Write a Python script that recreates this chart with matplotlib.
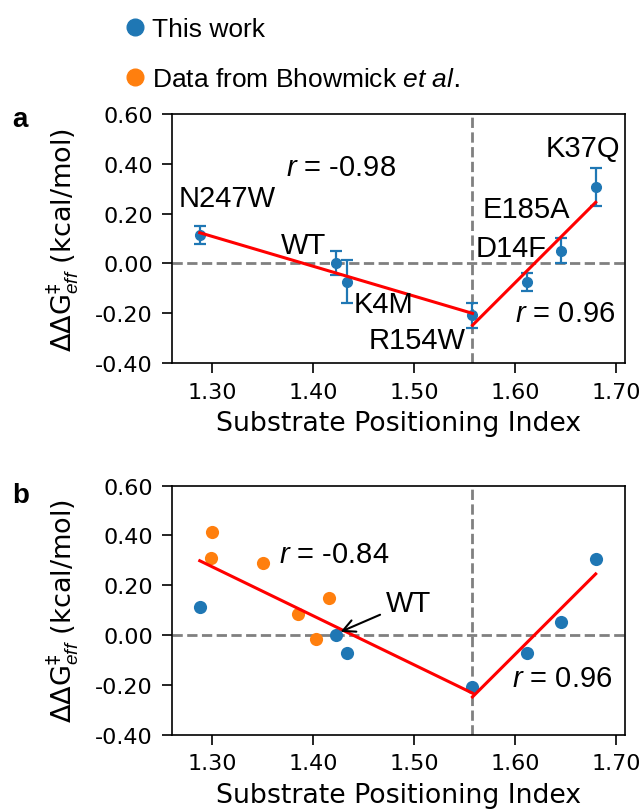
import numpy as np
import matplotlib.pyplot as plt
from matplotlib.lines import Line2D

# this work: substrate positioning index vs ddG (kcal/mol)
mutants = ["N247W", "WT", "K4M", "R154W", "D14F", "E185A", "K37Q"]
spi = [1.288, 1.423, 1.434, 1.558, 1.612, 1.646, 1.680]
ddg = [0.114, 0.000, -0.074, -0.208, -0.074, 0.051, 0.306]
ddg_err = [0.038, 0.048, 0.087, 0.051, 0.037, 0.050, 0.077]

# Bhowmick et al.
spi_lit = [1.300, 1.299, 1.351, 1.385, 1.403, 1.416]
ddg_lit = [0.413, 0.309, 0.289, 0.085, -0.017, 0.149]

r_text_a = ["-0.98", "0.96"]
r_text_b = ["-0.84", "0.96"]
yticks = [-0.40, -0.20, 0.00, 0.20, 0.40, 0.60]
xticks = [1.30, 1.40, 1.50, 1.60, 1.70]

BLUE = "#1f77b4"
ORANGE = "#ff7f0e"
ARIAL = "Liberation Sans"
FS = 21

plt.rcParams["mathtext.fontset"] = "custom"
plt.rcParams["mathtext.rm"] = "DejaVu Sans"
plt.rcParams["mathtext.it"] = "Liberation Sans:italic"
plt.rcParams["mathtext.bf"] = "DejaVu Sans:bold"

spi = np.array(spi)
ddg = np.array(ddg)
spi_lit = np.array(spi_lit)
ddg_lit = np.array(ddg_lit)
x_break = spi[3]


def fit_line(x, y):
    p = np.polyfit(x, y, 1)
    xs = np.array([x.min(), x.max()])
    return xs, np.polyval(p, xs)


def style_axes(ax):
    ax.set_xlim(1.2602, 1.709)
    ax.set_ylim(-0.40, 0.60)
    ax.set_xticks(xticks)
    ax.set_yticks(yticks)
    ax.set_xticklabels(["%.2f" % t for t in xticks])
    ax.set_yticklabels(["%.2f" % t for t in yticks])
    ax.tick_params(labelsize=16, length=7.5, width=1.2, pad=6)
    for s in ax.spines.values():
        s.set_linewidth(1.2)
    ax.set_xlabel("Substrate Positioning Index", fontsize=19.3, labelpad=6)
    ax.set_ylabel(r"$\Delta\Delta \mathrm{G}^{\ddagger}_{eff}$ (kcal/mol)", fontsize=19.5)
    ax.yaxis.set_label_coords(-0.2, 0.5)
    ax.axhline(0, color="gray", ls="--", lw=2, zorder=1)
    ax.axvline(x_break, color="gray", ls="--", lw=2, zorder=1)


fig = plt.figure(figsize=(6.43, 8.12), dpi=100)
ax1 = fig.add_axes([0.267, 0.5517, 0.705, 0.3067])
ax2 = fig.add_axes([0.267, 0.094, 0.705, 0.3067])

# panel a
style_axes(ax1)
ax1.errorbar(spi, ddg, yerr=ddg_err, fmt="o", color=BLUE, ms=7,
             capsize=4, elinewidth=1.6, capthick=1.6, zorder=2)
left = spi <= x_break
right = spi >= x_break
xs, ys = fit_line(spi[left], ddg[left])
ax1.plot(xs, ys, color="red", lw=2.2, zorder=3)
xs, ys = fit_line(spi[right], ddg[right])
ax1.plot(xs, ys, color="red", lw=2.2, zorder=3)

label_pos = {"N247W": (1.2674, 0.229), "WT": (1.368, 0.041),
             "K4M": (1.440, -0.197), "R154W": (1.455, -0.338),
             "D14F": (1.5616, 0.031), "E185A": (1.5685, 0.185),
             "K37Q": (1.630, 0.43)}
for m in mutants:
    ax1.text(*label_pos[m], m, fontsize=FS, family=ARIAL, va="baseline")
ax1.text(1.373, 0.353, r"$\it{r}$ = " + r_text_a[0], fontsize=FS, family=ARIAL, va="baseline")
ax1.text(1.600, -0.231, r"$\it{r}$ = " + r_text_a[1], fontsize=FS, family=ARIAL, va="baseline")

# panel b
style_axes(ax2)
ax2.scatter(spi, ddg, s=90, color=BLUE, zorder=2, linewidths=0)
ax2.scatter(spi_lit, ddg_lit, s=90, color=ORANGE, zorder=2, linewidths=0)
xl = np.concatenate([spi[left], spi_lit])
yl = np.concatenate([ddg[left], ddg_lit])
xs, ys = fit_line(xl, yl)
ax2.plot(xs, ys, color="red", lw=2.2, zorder=3)
xs, ys = fit_line(spi[right], ddg[right])
ax2.plot(xs, ys, color="red", lw=2.2, zorder=3)
ax2.annotate("WT", xy=(1.4274, 0.013), xytext=(1.4718, 0.098),
             fontsize=FS, family=ARIAL, va="baseline", zorder=4,
             arrowprops=dict(arrowstyle="->", color="k", lw=1.5,
                             mutation_scale=22, shrinkA=2, shrinkB=0))
ax2.text(1.366, 0.293, r"$\it{r}$ = " + r_text_b[0], fontsize=FS, family=ARIAL, va="baseline")
ax2.text(1.597, -0.206, r"$\it{r}$ = " + r_text_b[1], fontsize=FS, family=ARIAL, va="baseline")

# panel letters
fig.text(12 / 643, 1 - 126.7 / 812, "a", fontsize=20, fontweight="bold", family=ARIAL, va="baseline")
fig.text(12 / 643, 1 - 503.3 / 812, "b", fontsize=20, fontweight="bold", family=ARIAL, va="baseline")

# legend
handles = [Line2D([], [], ls="", marker="o", color=BLUE, ms=12),
           Line2D([], [], ls="", marker="o", color=ORANGE, ms=12)]
labels = ["This work", r"Data from Bhowmick $\it{et\ al.}$"]
fig.legend(handles, labels, loc="upper left", bbox_to_anchor=(126 / 643, 1 - 18 / 812),
           frameon=False, handlelength=0.7, handletextpad=0.3, labelspacing=0.98,
           borderpad=0, borderaxespad=0, prop={"family": ARIAL, "size": 19})

fig.savefig("out.png", dpi=100)
